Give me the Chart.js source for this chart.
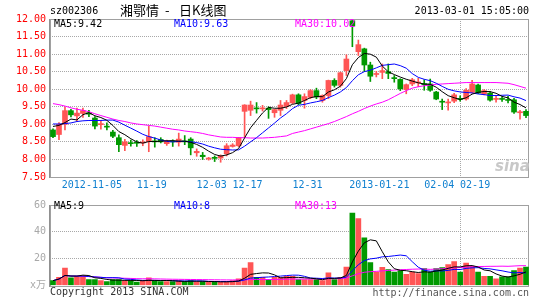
<!DOCTYPE html>
<html><head><meta charset="utf-8">
<script src="https://cdn.jsdelivr.net/npm/chart.js@4"></script>
<style>
html,body{margin:0;padding:0;background:#fff;}
#wrap{position:relative;width:545px;height:300px;overflow:hidden;background:#fff;}
canvas{position:absolute;left:0;}
.t{position:absolute;white-space:pre;font-family:"DejaVu Sans Mono",monospace;font-size:10px;line-height:12px;}
.c{position:absolute;white-space:pre;font-family:"Noto Sans CJK SC",sans-serif;font-size:13px;line-height:14px;color:#000;}
</style></head><body>
<div id="wrap">
<canvas id="pc" width="545" height="195" style="top:0;width:545px;height:195px"></canvas>
<canvas id="vc" width="545" height="105" style="top:195px;width:545px;height:105px"></canvas>
<div class="t" style="left:50px;top:5px;color:#000">sz002306</div>
<div class="c" style="left:120px;top:3px">湘鄂情</div>
<div class="c" style="left:165px;top:3px">-</div>
<div class="c" style="left:179px;top:3px">日K线图</div>
<div class="t" style="right:16px;top:5px;color:#000">2013-03-01 15:05:00</div>
<div class="t" style="left:54px;top:18px;color:#000">MA5:9.42</div>
<div class="t" style="left:174px;top:18px;color:#0000ff">MA10:9.63</div>
<div class="t" style="left:295px;top:18px;color:#ff00ff">MA30:10.02</div>
<div class="t" style="left:54px;top:200px;color:#000">MA5:9</div>
<div class="t" style="left:174px;top:200px;color:#0000ff">MA10:8</div>
<div class="t" style="left:295px;top:200px;color:#ff00ff">MA30:13</div>
<div class="t" style="left:50px;top:286px;color:#333">Copyright 2013 SINA.COM</div>
<div class="t" style="right:16px;top:287px;color:#555">http://finance.sina.com.cn</div>
<div style="position:absolute;left:495px;top:157px;font:italic bold 15px 'DejaVu Sans',sans-serif;color:#c8c8c8;">sina</div>
</div>
<script>
const dates = [
'2012-10-25','2012-10-26','2012-10-29','2012-10-30','2012-10-31',
'2012-11-01','2012-11-02','2012-11-05','2012-11-06','2012-11-07','2012-11-08','2012-11-09',
'2012-11-12','2012-11-13','2012-11-14','2012-11-15','2012-11-16',
'2012-11-19','2012-11-20','2012-11-21','2012-11-22','2012-11-23',
'2012-11-26','2012-11-27','2012-11-28','2012-11-29','2012-11-30',
'2012-12-03','2012-12-10','2012-12-11','2012-12-12','2012-12-13','2012-12-14',
'2012-12-17','2012-12-18','2012-12-19','2012-12-20','2012-12-21',
'2012-12-24','2012-12-25','2012-12-26','2012-12-27','2012-12-28',
'2012-12-31','2013-01-04','2013-01-07','2013-01-08','2013-01-09','2013-01-10','2013-01-11',
'2013-01-14','2013-01-15','2013-01-16','2013-01-17','2013-01-18',
'2013-01-21','2013-01-22','2013-01-23','2013-01-24','2013-01-25',
'2013-01-28','2013-01-29','2013-01-30','2013-01-31','2013-02-01',
'2013-02-04','2013-02-05','2013-02-06','2013-02-07','2013-02-08',
'2013-02-18','2013-02-19','2013-02-20','2013-02-21','2013-02-22',
'2013-02-25','2013-02-26','2013-02-27','2013-02-28','2013-03-01'];

const opens = [8.84,8.71,9.00,9.39,9.24,9.31,9.33,9.18,8.99,8.94,
8.78,8.62,8.40,8.47,8.48,8.47,8.51,8.52,8.57,8.45,
8.52,8.49,8.52,8.58,8.19,8.12,8.01,8.06,8.04,8.16,
8.37,8.39,9.37,9.40,9.46,9.44,9.46,9.33,9.40,9.51,
9.61,9.84,9.68,9.77,9.96,9.68,9.82,10.25,10.11,10.53,
11.95,11.07,11.15,10.69,10.42,10.48,10.50,10.33,10.28,9.99,
10.15,10.18,10.15,10.15,9.92,9.65,9.61,9.66,9.73,9.72,
9.91,10.12,9.86,9.89,9.71,9.73,9.70,9.70,9.33,9.37];
const closes = [8.65,9.00,9.39,9.27,9.32,9.39,9.29,8.95,9.02,8.92,
8.66,8.42,8.50,8.45,8.46,8.49,8.65,8.50,8.50,8.52,
8.50,8.58,8.50,8.33,8.23,8.08,8.04,8.03,8.10,8.39,
8.41,8.62,9.55,9.55,9.44,9.46,9.42,9.42,9.55,9.62,
9.84,9.59,9.79,9.96,9.78,9.82,10.25,10.11,10.47,10.86,
11.80,11.27,10.69,10.37,10.44,10.53,10.45,10.30,10.01,10.13,
10.27,10.20,10.13,9.97,9.72,9.63,9.63,9.84,9.71,9.97,
10.15,9.89,9.96,9.69,9.73,9.71,9.68,9.35,9.35,9.25];
const highs = [8.87,9.05,9.49,9.43,9.46,9.46,9.40,9.22,9.10,9.04,
8.83,8.70,8.57,8.55,8.54,8.56,8.95,8.62,8.62,8.55,
8.56,8.75,8.68,8.62,8.30,8.20,8.06,8.10,8.13,8.45,
8.45,8.63,9.56,9.66,9.62,9.54,9.50,9.43,9.68,9.68,
9.86,9.87,9.87,9.99,10.03,9.84,10.26,10.30,10.49,10.98,
11.96,11.40,11.17,10.77,10.51,10.72,10.72,10.39,10.30,10.15,
10.31,10.31,10.27,10.29,9.94,9.72,9.72,9.88,9.81,10.02,
10.25,10.15,9.99,9.93,9.81,9.78,9.80,9.74,9.40,9.42];
const lows = [8.62,8.56,8.84,9.21,9.08,9.20,9.22,8.87,8.86,8.84,
8.62,8.22,8.25,8.38,8.37,8.39,8.22,8.35,8.47,8.40,
8.37,8.38,8.42,8.13,8.09,8.00,7.98,7.94,7.92,8.10,
8.35,8.36,8.65,9.25,9.32,9.38,9.17,9.20,9.25,9.45,
9.59,9.56,9.46,9.73,9.73,9.63,9.73,10.06,10.06,10.39,
11.21,10.96,10.50,10.22,10.35,10.30,10.30,10.20,9.96,9.87,
10.10,10.07,9.97,9.94,9.70,9.42,9.40,9.62,9.66,9.69,
9.89,9.87,9.84,9.66,9.63,9.65,9.61,9.31,9.15,9.19];
const volumes = [3.6,6.0,12.9,5.7,6.9,7.1,4.5,4.5,3.6,2.9,
4.5,4.5,3.6,3.6,2.5,3.6,5.7,3.6,2.9,2.9,
2.9,3.6,2.9,3.6,2.9,2.9,2.5,2.9,2.5,2.9,
3.6,5.0,12.9,17.1,6.0,6.0,4.5,6.0,6.0,6.9,
6.9,4.5,4.5,4.5,4.5,3.6,9.5,4.5,6.0,13.8,
54.0,49.8,35.5,17.1,10.0,13.6,11.9,10.0,11.2,8.4,
10.0,8.8,12.6,10.0,12.6,13.3,15.5,17.9,10.0,16.7,
14.3,10.0,6.9,6.9,5.0,6.4,6.4,11.2,12.9,13.8];
// MA30 of price (earlier history not shown)
const ma30Price = [9.59,9.56,9.52,9.47,9.43,9.40,9.36,9.30,9.25,9.20,
9.15,9.11,9.08,9.04,9.01,8.99,8.97,8.95,8.92,8.89,
8.86,8.84,8.81,8.79,8.77,8.74,8.70,8.67,8.64,8.63,
8.63,8.62,8.62,8.61,8.61,8.61,8.62,8.63,8.65,8.67,
8.74,8.78,8.82,8.87,8.92,8.97,9.02,9.08,9.15,9.22,
9.30,9.37,9.45,9.52,9.58,9.63,9.70,9.79,9.88,9.96,
10.03,10.07,10.10,10.12,10.14,10.15,10.16,10.17,10.18,10.19,
10.19,10.19,10.19,10.19,10.19,10.18,10.17,10.13,10.08,10.03];
// first MA5 / MA10 points
const ma5Head = [8.94,8.97,9.05,9.15];
const ma10Head = [9.01,9.01,9.02,9.04,9.08,9.10,9.11,9.11,9.11];
const tickDates = ['2012-11-05','2012-11-19','2012-12-03','2012-12-17','2012-12-31','2013-01-21','2013-02-04','2013-02-19'];
const tickTexts = ['2012-11-05','11-19','12-03','12-17','12-31','2013-01-21','02-04','02-19'];

const avg = a => a.reduce((s,v)=>s+v,0)/a.length;
function movingAvg(src, n, head){
  return src.map((_, i) => i < n-1 ? (head ? head[i] : avg(src.slice(0, i+1))) : avg(src.slice(i-n+1, i+1)));
}
const ma5 = movingAvg(closes, 5, ma5Head);
const ma10 = movingAvg(closes, 10, ma10Head);
const vma5 = movingAvg(volumes, 5);
const vma10 = movingAvg(volumes, 10);
const vma30 = movingAvg(volumes, 30);

const RED = '#ff5555', GREEN = '#009900';
const isUp = i => closes[i] >= opens[i];
const colorOf = ctx => isUp(ctx.dataIndex) ? RED : GREEN;
const labelFor = i => { const k = tickDates.indexOf(dates[i]); return k >= 0 ? tickTexts[k] : null; };
const GRID = '#a8a8a8';
const FONT = {family:"'DejaVu Sans Mono','Noto Sans CJK SC',monospace", size:10};

const frame = {
  id:'frame',
  beforeDatasetsDraw(c){
    const {ctx, chartArea:a} = c;
    ctx.save();
    ctx.strokeStyle = '#a0a0a0'; ctx.lineWidth = 1;
    const l = Math.round(a.left), t = Math.round(a.top), r = Math.round(a.right), b = Math.round(a.bottom);
    ctx.strokeRect(l+0.5, t+0.5, r-l-1, b-t);
    ctx.strokeStyle = '#909090';
    ctx.beginPath(); ctx.moveTo(l-0.5, t); ctx.lineTo(l-0.5, b+1); ctx.stroke();
    ctx.restore();
  }
};

function xScale(showLabels){
  return {
    offset: true,
    grid: { offset: true, drawTicks: false, lineWidth: 1,
      color: ctx => (ctx.tick && labelFor(ctx.index)) ? GRID : 'rgba(0,0,0,0)' },
    border: { display: false, dash: [1,1] },
    ticks: { display: showLabels, autoSkip: false, maxRotation: 0, minRotation: 0, padding: 2.5,
      labelOffset: -3, color: '#1080d0', font: FONT,
      callback: (v, i) => labelFor(i) },
    afterFit: s => { s.height = showLabels ? 18 : 0; }
  };
}
function lineDs(data, color, order){
  return {type:'line', data, borderColor: color, borderWidth: 1, pointRadius: 0, tension: 0, fill: false, order};
}

new Chart(document.getElementById('pc'), {
  type: 'bar',
  data: { labels: dates, datasets: [
    lineDs(ma5, '#000000', 1),
    lineDs(ma10, '#0000ff', 2),
    lineDs(ma30Price, '#ff00ff', 3),
    {type:'bar', data: dates.map((_, i) => [opens[i], closes[i]]), backgroundColor: colorOf,
      barThickness: 5, minBarLength: 1, grouped: false, borderWidth: 0, order: 4},
    {type:'bar', data: dates.map((_, i) => [lows[i], highs[i]]), backgroundColor: colorOf,
      barThickness: 1, grouped: false, borderWidth: 0, order: 5}
  ]},
  options: {
    responsive: false, animation: false, events: [],
    layout: { padding: { top: 19, right: 16, left: 0, bottom: 0 } },
    plugins: { legend: { display: false }, tooltip: { enabled: false } },
    scales: {
      x: xScale(true),
      y: { min: 7.5, max: 12,
        ticks: { stepSize: 0.5, color: '#ff0000', padding: 4, font: FONT, callback: v => Number(v).toFixed(2) },
        grid: { drawTicks: false, color: ctx => (ctx.tick && ctx.tick.value > 7.5 && ctx.tick.value < 12) ? GRID : 'rgba(0,0,0,0)' },
        border: { display: false, dash: [1,1] },
        afterFit: s => { s.width = 50; } }
    }
  },
  plugins: [frame]
});

new Chart(document.getElementById('vc'), {
  type: 'bar',
  data: { labels: dates, datasets: [
    lineDs(vma5, '#000000', 1),
    lineDs(vma10, '#0000ff', 2),
    lineDs(vma30, '#ff00ff', 3),
    {type:'bar', data: volumes, backgroundColor: colorOf, barThickness: 5, borderWidth: 0, order: 4}
  ]},
  options: {
    responsive: false, animation: false, events: [],
    layout: { padding: { top: 6.5, right: 16, left: 0, bottom: 14.5 } },
    plugins: { legend: { display: false }, tooltip: { enabled: false } },
    scales: {
      x: xScale(false),
      y: { min: 0, max: 60,
        ticks: { stepSize: 20, color: '#a8a8a8', padding: 4, font: FONT, callback: v => v === 0 ? 'x万' : String(v) },
        grid: { drawTicks: false, color: ctx => (ctx.tick && ctx.tick.value > 0 && ctx.tick.value < 60) ? GRID : 'rgba(0,0,0,0)' },
        border: { display: false, dash: [1,1] },
        afterFit: s => { s.width = 50; } }
    }
  },
  plugins: [frame]
});
</script>
</body></html>
